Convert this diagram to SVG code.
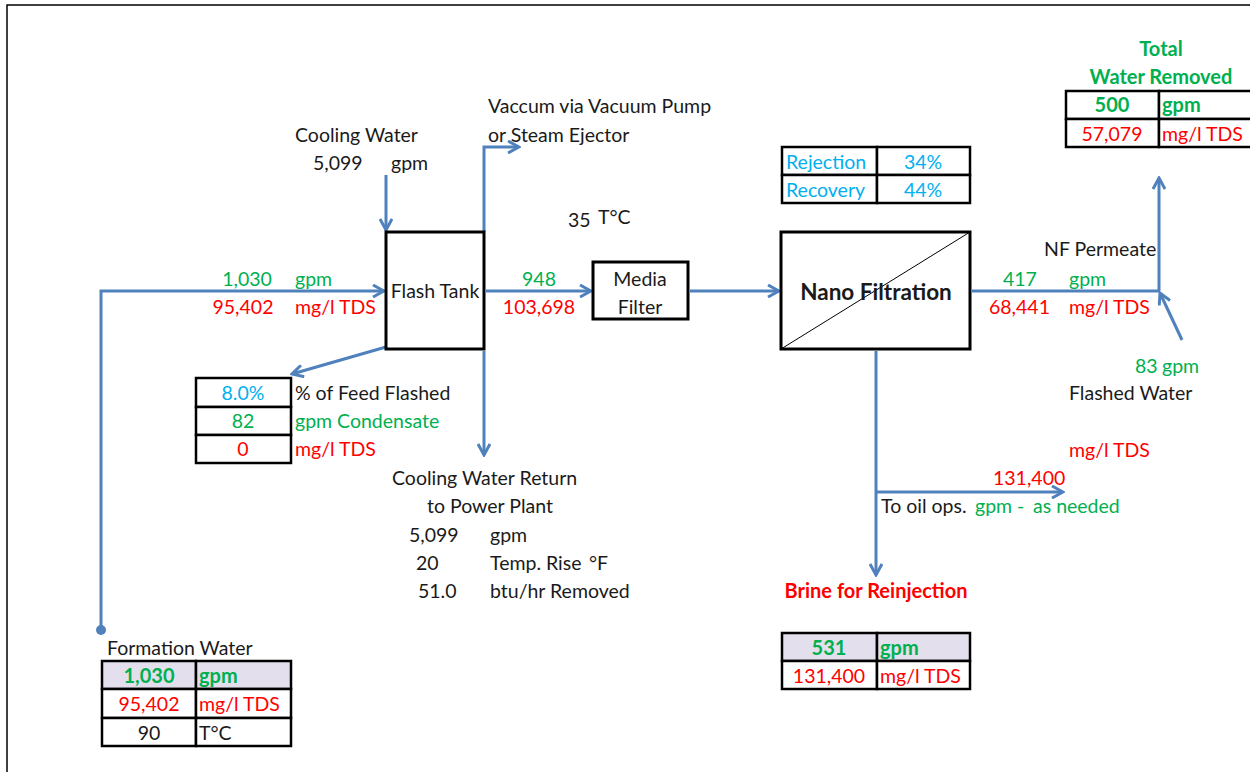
<svg xmlns="http://www.w3.org/2000/svg" width="1250" height="772" viewBox="0 0 1250 772">
  <style>
    text { font-family: Lato, "Liberation Sans", sans-serif; font-size: 19.5px; fill: #1a1a1a; }
    .g { fill: #00B050; }
    .r { fill: #FF0000; }
    .c { fill: #00B0F0; }
    .b { font-weight: bold; font-size: 20px; }
    .m { text-anchor: middle; }
    .box { fill: #ffffff; stroke: #000000; stroke-width: 3; }
    .cell { fill: #ffffff; stroke: #000000; stroke-width: 2.5; }
    .hdr { fill: #E4DFEC; stroke: #000000; stroke-width: 2.5; }
    .flow { fill: none; stroke: #4F81BD; stroke-width: 3; }
  </style>
  <defs>
    <marker id="arr" viewBox="0 0 14 14" refX="12" refY="7" markerWidth="14" markerHeight="14" markerUnits="userSpaceOnUse" orient="auto">
      <path d="M1,1 L12,7 L1,13" fill="none" stroke="#4F81BD" stroke-width="3"/>
    </marker>
  </defs>

  <rect width="1250" height="772" fill="#ffffff"/>
  <!-- sheet frame -->
  <path d="M7,772 V5 H1250" fill="none" stroke="#000" stroke-width="1.5"/>

  <!-- connectors -->
  <g id="connectors">
    <path class="flow" d="M101,630 V291 H384" marker-end="url(#arr)"/>
    <circle cx="101" cy="630" r="5" fill="#4F81BD"/>
    <path class="flow" d="M386,175 V230" marker-end="url(#arr)"/>
    <path class="flow" d="M484,232 V147 H519" marker-end="url(#arr)"/>
    <path class="flow" d="M486,291 H591" marker-end="url(#arr)"/>
    <path class="flow" d="M690,291 H779" marker-end="url(#arr)"/>
    <path class="flow" d="M386,347 L292,374" marker-end="url(#arr)"/>
    <path class="flow" d="M484,351 V455" marker-end="url(#arr)"/>
    <path class="flow" d="M972,291 H1159"/>
    <path class="flow" d="M1159,291 V178" marker-end="url(#arr)"/>
    <path class="flow" d="M1182,340 L1160,293" marker-end="url(#arr)"/>
    <path class="flow" d="M876,351 V575" marker-end="url(#arr)"/>
    <path class="flow" d="M876,492 H1063" marker-end="url(#arr)"/>
  </g>

  <!-- flash tank -->
  <g id="flash-tank">
    <rect class="box" x="386" y="232" width="98" height="117"/>
    <text class="m" x="435" y="298">Flash Tank</text>
  </g>

  <!-- media filter -->
  <g id="media-filter">
    <rect class="box" x="593" y="262" width="95" height="57"/>
    <text class="m" x="640" y="286">Media</text>
    <text class="m" x="640" y="314">Filter</text>
  </g>

  <!-- nano filtration -->
  <g id="nano-filtration">
    <rect class="box" x="781" y="232" width="189" height="117"/>
    <line x1="781" y1="349" x2="970" y2="232" stroke="#000" stroke-width="1"/>
    <text class="m b" x="876" y="300" style="font-size:22.5px">Nano Filtration</text>
  </g>

  <!-- rejection / recovery -->
  <g id="nf-performance">
    <rect class="cell" x="782" y="147" width="95" height="28"/>
    <rect class="cell" x="877" y="147" width="93" height="28"/>
    <rect class="cell" x="782" y="175" width="95" height="28"/>
    <rect class="cell" x="877" y="175" width="93" height="28"/>
    <text class="c" x="786" y="169">Rejection</text>
    <text class="c m" x="923" y="169">34%</text>
    <text class="c" x="786" y="197">Recovery</text>
    <text class="c m" x="923" y="197">44%</text>
  </g>

  <!-- total water removed -->
  <g id="total-water-removed">
    <text class="g b m" x="1161" y="56">Total</text>
    <text class="g b m" x="1161" y="84">Water Removed</text>
    <rect class="cell" x="1066" y="91" width="93" height="28"/>
    <rect class="cell" x="1159" y="91" width="93" height="28"/>
    <rect class="cell" x="1066" y="119" width="93" height="28"/>
    <rect class="cell" x="1159" y="119" width="93" height="28"/>
    <text class="g b m" x="1112" y="112">500</text>
    <text class="g b" x="1162" y="112">gpm</text>
    <text class="r m" x="1112" y="141">57,079</text>
    <text class="r" x="1162" y="141">mg/l TDS</text>
  </g>

  <!-- flash summary -->
  <g id="flash-summary">
    <rect class="cell" x="196" y="378" width="95" height="29"/>
    <rect class="cell" x="196" y="407" width="95" height="28"/>
    <rect class="cell" x="196" y="435" width="95" height="28"/>
    <text class="c m" x="243" y="400">8.0%</text>
    <text x="295" y="400">% of Feed Flashed</text>
    <text class="g m" x="243" y="428">82</text>
    <text class="g" x="295" y="428">gpm Condensate</text>
    <text class="r m" x="243" y="456">0</text>
    <text class="r" x="295" y="456">mg/l TDS</text>
  </g>

  <!-- formation water -->
  <g id="formation-water">
    <text x="107" y="655">Formation Water</text>
    <rect class="hdr" x="102" y="661" width="94" height="28"/>
    <rect class="hdr" x="196" y="661" width="95" height="28"/>
    <rect class="cell" x="102" y="689" width="94" height="29"/>
    <rect class="cell" x="196" y="689" width="95" height="29"/>
    <rect class="cell" x="102" y="718" width="94" height="28"/>
    <rect class="cell" x="196" y="718" width="95" height="28"/>
    <text class="g b m" x="149" y="683">1,030</text>
    <text class="g b" x="199" y="683">gpm</text>
    <text class="r m" x="149" y="711">95,402</text>
    <text class="r" x="199" y="711">mg/l TDS</text>
    <text class="m" x="149" y="740">90</text>
    <text x="199" y="740">T°C</text>
  </g>

  <!-- brine for reinjection -->
  <g id="brine">
    <text class="r b m" x="876" y="598">Brine for Reinjection</text>
    <rect class="hdr" x="782" y="633" width="95" height="28"/>
    <rect class="hdr" x="877" y="633" width="93" height="28"/>
    <rect class="cell" x="782" y="661" width="95" height="28"/>
    <rect class="cell" x="877" y="661" width="93" height="28"/>
    <text class="g b m" x="829" y="655">531</text>
    <text class="g b" x="880" y="655">gpm</text>
    <text class="r m" x="829" y="683">131,400</text>
    <text class="r" x="880" y="683">mg/l TDS</text>
  </g>

  <!-- stream labels -->
  <g id="cooling-water-in">
    <text x="295" y="142">Cooling Water</text>
    <text x="313" y="170">5,099</text>
    <text x="391" y="170">gpm</text>
  </g>

  <g id="vacuum">
    <text x="488" y="113">Vaccum via Vacuum Pump</text>
    <text x="488" y="142">or Steam Ejector</text>
  </g>

  <g id="feed-stream">
    <text class="g m" x="247" y="286">1,030</text>
    <text class="g" x="295" y="286">gpm</text>
    <text class="r m" x="243" y="314">95,402</text>
    <text class="r" x="295" y="314">mg/l TDS</text>
  </g>

  <g id="flashed-brine-stream">
    <text x="568" y="227">35</text>
    <text x="598" y="224">T°C</text>
    <text class="g m" x="539" y="286">948</text>
    <text class="r m" x="539" y="314">103,698</text>
  </g>

  <g id="permeate-stream">
    <text x="1044" y="256">NF Permeate</text>
    <text class="g" x="1003" y="286">417</text>
    <text class="g" x="1069" y="286">gpm</text>
    <text class="r" x="989" y="314">68,441</text>
    <text class="r" x="1069" y="314">mg/l TDS</text>
  </g>

  <g id="flashed-water">
    <text class="g" x="1135" y="373">83</text>
    <text class="g" x="1162" y="373">gpm</text>
    <text x="1069" y="400">Flashed Water</text>
    <text class="r" x="1069" y="457">mg/l TDS</text>
  </g>

  <g id="oil-ops">
    <text class="r" x="993" y="485">131,400</text>
    <text x="881" y="513">To oil ops.</text>
    <text class="g" x="975" y="513">gpm -</text>
    <text class="g" x="1033" y="513">as needed</text>
  </g>

  <g id="cooling-water-return">
    <text x="392" y="485">Cooling Water Return</text>
    <text x="427" y="513">to Power Plant</text>
    <text x="409" y="542">5,099</text>
    <text x="490" y="542">gpm</text>
    <text x="416" y="570">20</text>
    <text x="490" y="570">Temp. Rise</text>
    <text x="589" y="570">°F</text>
    <text x="418" y="598">51.0</text>
    <text x="490" y="598">btu/hr Removed</text>
  </g>
</svg>
